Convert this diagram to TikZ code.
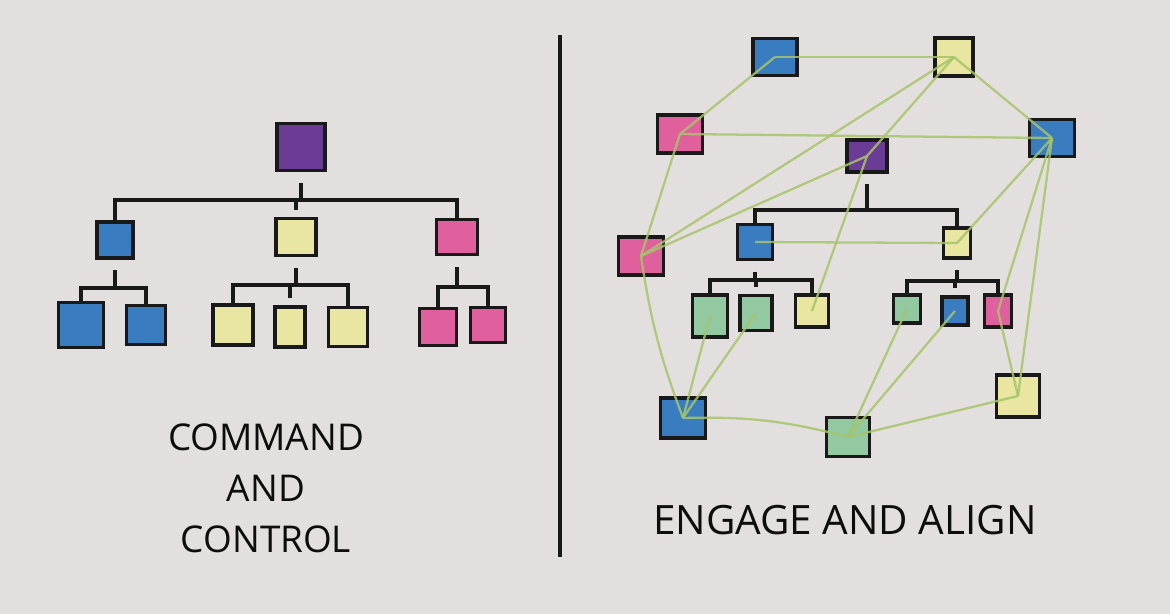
\documentclass[tikz,border=0pt]{standalone}
\usepackage{fontspec}
\newfontfamily\mano{Open Sans}
\definecolor{fondo}{HTML}{E4DFDF}
\definecolor{azul}{HTML}{3A7CC0}
\definecolor{morado}{HTML}{6A3C96}
\definecolor{amarillo}{HTML}{E8E6A0}
\definecolor{rosa}{HTML}{E0609E}
\definecolor{verde}{HTML}{92C9A0}
\definecolor{linea}{HTML}{A6C46A}
\tikzset{
  caja/.style={draw=black!90,line width=0.95pt,inner sep=0pt},
  arbol/.style={black!90,line width=0.9pt},
  enlace/.style={linea,line width=0.65pt,opacity=.85},
  texto/.style={font=\mano,text=black!95},
}

\begin{document}
\begin{tikzpicture}[x=0.1mm,y=-0.1mm]
  % fondo
  \fill[fondo] (0,0) rectangle (1170,614);
  \useasboundingbox (0,0) rectangle (1170,614);
  % separador
  \draw[line width=0.9pt,black!90] (560,35) -- (560,557);
  % izquierda: jerarquia
  \foreach \n/\x/\y/\c/\w/\h in {l0/301/147/morado/4.8/4.7,
      l1/115/240/azul/3.6/3.6, l2/296/237/amarillo/4.0/3.7, l3/457/237/rosa/4.1/3.5,
      b1/81/325/azul/4.5/4.5, b2/146/325/azul/3.9/3.9,
      b3/233/325/amarillo/4.0/4.0, b4/290/327/amarillo/3.0/4.0, b5/348/327/amarillo/3.9/3.9,
      b6/438/327/rosa/3.7/3.7, b7/488/325/rosa/3.5/3.5}
    \node[caja,fill=\c,minimum width=\w mm,minimum height=\h mm] (\n) at (\x,\y) {};
  % derecha: red
  \foreach \n/\x/\y/\c/\w/\h in {r1/775/57/azul/4.4/3.7, r2/954/57/amarillo/3.8/3.8,
      r3/680/134/rosa/4.5/3.8, r4/1052/138/azul/4.5/3.7, r5/867/156/morado/4.0/3.2,
      r6/641/256/rosa/4.5/3.8, r7/755/242/azul/3.5/3.5, r8/957/243/amarillo/2.7/3.0,
      f1/710/316/verde/3.5/4.2, f2/756/313/verde/3.2/3.5, f3/812/311/amarillo/3.3/3.2,
      f4/907/309/verde/2.7/2.8, f5/955/311/azul/2.6/2.8, f6/998/311/rosa/2.7/3.2,
      g1/683/418/azul/4.5/4.0, g2/848/437/verde/4.3/3.9, g3/1018/396/amarillo/4.3/4.2}
    \node[caja,fill=\c,minimum width=\w mm,minimum height=\h mm] (\n) at (\x,\y) {};
  % ramas con dos hijos
  \foreach \p/\i/\d/\y in {l1/b1/b2/288, l3/b6/b7/287, r5/r7/r8/210} {
    \coordinate (h) at (0,\y);
    \draw[arbol,shorten <=3pt] (\p.south) -- (\p.south |- h);
    \draw[arbol] (\i.north) -- (\i.north |- h) -- (\d.north |- h) -- (\d.north);
  }
  % ramas con tres hijos
  \foreach \p/\i/\m/\d/\y in {l0/l1/l2/l3/200, l2/b3/b4/b5/285, r7/f1/f2/f3/280, r8/f4/f5/f6/281} {
    \coordinate (h) at (0,\y);
    \draw[arbol,shorten <=3pt] (\p.south) -- (\p.south |- h);
    \draw[arbol] (\i.north) -- (\i.north |- h) -- (\d.north |- h) -- (\d.north);
    \draw[arbol,shorten <=2pt] (\m.north) -- (\m.north |- h);
  }
  % enlaces verdes
  \foreach \a/\b in {r1/r2, r1/r3, r2/r4, r2/r6, r2/r5, r3/r4, r3/r6, r5/r6, r5/f3,
      r4/r8, r4/f6, r4/g3, r7/r8, f1/g1, f2/g1, f4/g2, f5/g2, f6/g3, g2/g3}
    \draw[enlace] (\a.center) -- (\b.center);
  \draw[enlace] (r6.center) to[bend right=6] (g1.center);
  \draw[enlace] (g1.center) to[bend left=8] (g2.center);
  % rotulos
  \node[texto,align=center,font=\mano\fontsize{10.5}{14.5}\selectfont] (lema1) at (266,488) {COMMAND\\AND\\CONTROL};
  \node[texto,font=\mano\fontsize{11.5}{14}\selectfont] (lema2) at (845,520) {ENGAGE AND ALIGN};
\end{tikzpicture}
\end{document}
